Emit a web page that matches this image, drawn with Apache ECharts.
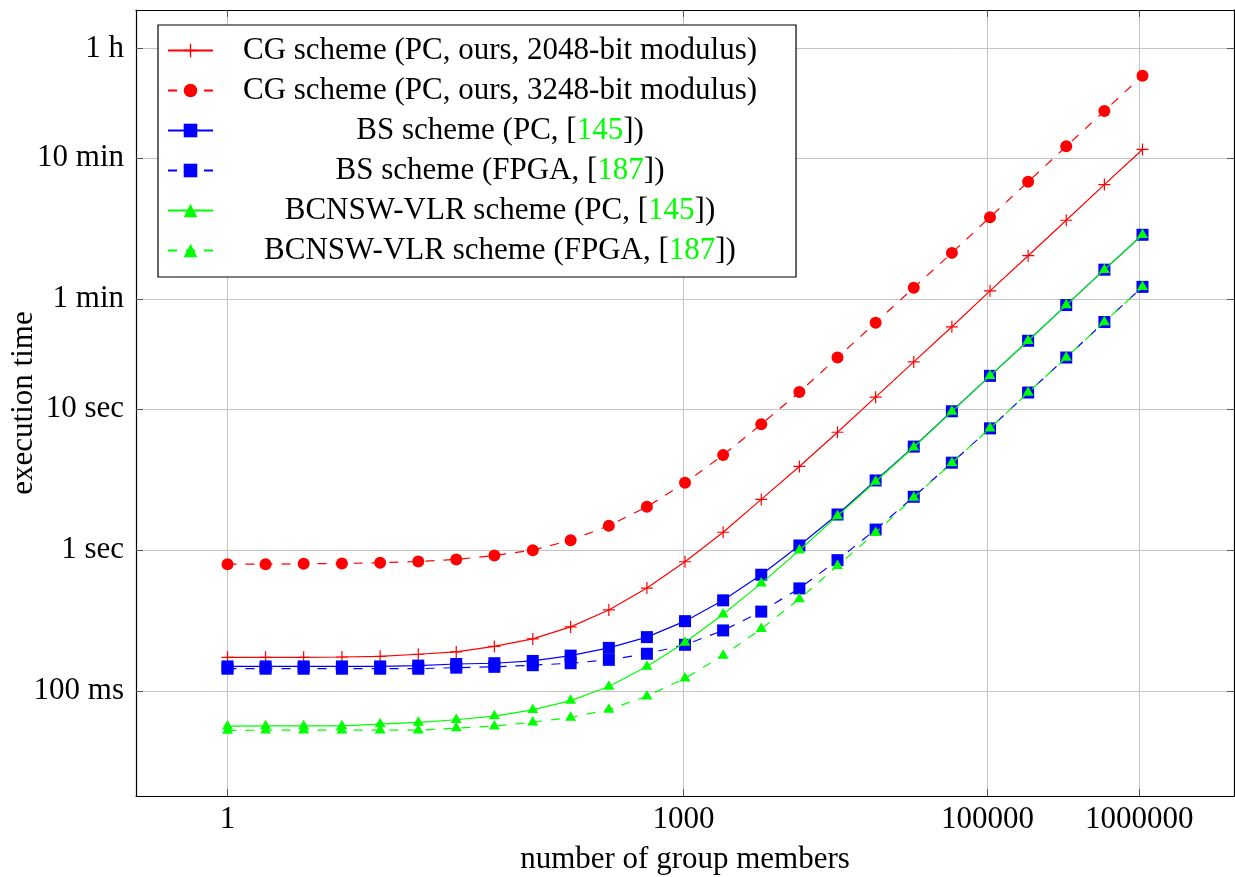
<!DOCTYPE html>
<html>
<head>
<meta charset="utf-8">
<script src="https://cdn.jsdelivr.net/npm/echarts@6/dist/echarts.min.js"></script>
<style>
html, body { margin: 0; padding: 0; background: #ffffff; }
#chart { width: 1235px; height: 877px; }
</style>
</head>
<body>
<div id="chart"></div>
<script>
// ---- data ----
const xValues = [1, 1.78, 3.17, 5.66, 10.1, 18, 32, 57, 102, 181, 323, 575, 1024,
  1825, 3251, 5793, 10321, 18390, 32768, 58386, 104032, 185364, 330281, 588496, 1048576];

const cg2048 = [0.174, 0.174, 0.174, 0.175, 0.177, 0.183, 0.190, 0.208, 0.235, 0.286, 0.377, 0.539, 0.828,
  1.34, 2.29, 3.92, 6.85, 12.15, 21.6, 38.3, 68.9, 122.2, 218, 390, 692];
const cg3248 = [0.796, 0.796, 0.800, 0.805, 0.814, 0.832, 0.859, 0.917, 1.00, 1.177, 1.49, 2.03, 3.00,
  4.72, 7.80, 13.2, 23.2, 41.0, 72.5, 128, 229, 409, 728, 1298, 2307];
const bsPC = [0.150, 0.150, 0.150, 0.150, 0.150, 0.152, 0.156, 0.158, 0.164, 0.179, 0.203, 0.242, 0.314,
  0.441, 0.670, 1.08, 1.79, 3.12, 5.42, 9.65, 17.2, 30.5, 54.6, 97.3, 172];
const bsFPGA = [0.1445, 0.1445, 0.1445, 0.1445, 0.1445, 0.1445, 0.147, 0.149, 0.153, 0.158, 0.167, 0.1845, 0.2135,
  0.270, 0.367, 0.536, 0.850, 1.40, 2.39, 4.17, 7.30, 13.1, 23.2, 41.4, 73.5];
const bcnswPC = [0.0566, 0.0568, 0.0568, 0.0568, 0.0585, 0.0601, 0.0628, 0.0667, 0.0739, 0.0859, 0.108, 0.150, 0.222,
  0.351, 0.582, 1.00, 1.75, 3.07, 5.36, 9.6, 17.2, 30.5, 54.6, 97.3, 172];
const bcnswFPGA = [0.0528, 0.053, 0.053, 0.053, 0.053, 0.053, 0.0548, 0.0566, 0.0604, 0.0652, 0.0742, 0.0923, 0.1235,
  0.1795, 0.277, 0.451, 0.775, 1.33, 2.36, 4.15, 7.3, 13.1, 23.2, 41.4, 73.5];

const seriesNames = [
  'CG scheme (PC, ours, 2048-bit modulus)',
  'CG scheme (PC, ours, 3248-bit modulus)',
  'BS scheme (PC, [145])',
  'BS scheme (FPGA, [187])',
  'BCNSW-VLR scheme (PC, [145])',
  'BCNSW-VLR scheme (FPGA, [187])'
];

const xTickValues = [1, 1000, 100000, 1000000];
const xTickLabels = ['1', '1000', '100000', '1000000'];
const yTickValues = [0.1, 1, 10, 60, 600, 3600];
const yTickLabels = ['100 ms', '1 sec', '10 sec', '1 min', '10 min', '1 h'];

const xAxisName = 'number of group members';
const yAxisName = 'execution time';

// ---- styling ----
const FONT = 'Liberation Serif';
const FS = 31;
const RED = '#ff0000', BLUE = '#0000ff', GREEN = '#00ff00';
const PLUS = 'path://M5.4,0H6.6V5.4H12V6.6H6.6V12H5.4V6.6H0V5.4H5.4Z';
const DASH = [9, 9];

function lookup(values, labels, v) {
  let best = 0, bd = Infinity;
  values.forEach((t, i) => {
    const d = Math.abs(Math.log10(t) - Math.log10(v));
    if (d < bd) { bd = d; best = i; }
  });
  return labels[best];
}

function pairs(ys) { return xValues.map((x, i) => [x, ys[i]]); }

const styles = [
  { data: cg2048, color: RED, dash: 'solid', symbol: PLUS, size: 12, offset: [0, 0] },
  { data: cg3248, color: RED, dash: DASH, symbol: 'circle', size: 12, offset: [0, 0] },
  { data: bsPC, color: BLUE, dash: 'solid', symbol: 'rect', size: 12, offset: [0, 0] },
  { data: bsFPGA, color: BLUE, dash: DASH, symbol: 'rect', size: 12, offset: [0, 0] },
  { data: bcnswPC, color: GREEN, dash: 'solid', symbol: 'triangle', size: [11, 9.5], offset: [0, -1.5] },
  { data: bcnswFPGA, color: GREEN, dash: DASH, symbol: 'triangle', size: [11, 9.5], offset: [0, -1.5] }
];

const series = styles.map((s, i) => ({
  name: seriesNames[i],
  type: 'line',
  data: pairs(s.data),
  symbol: s.symbol,
  symbolSize: s.size,
  symbolOffset: s.offset,
  showSymbol: true,
  lineStyle: { color: s.color, width: 1.2, type: s.dash },
  itemStyle: { color: s.color },
  emphasis: { disabled: true },
  z: 3 + i
}));

const X_MIN = 0.25, X_MAX = 4194304;
const Y_MIN = 0.0181, Y_MAX = 6740;

const tickStyle = { show: true, inside: true, length: 7, lineStyle: { color: '#555555', width: 1 } };
const lineBlack = { show: true, lineStyle: { color: '#000000', width: 1.2 } };

const chart = echarts.init(document.getElementById('chart'), null, { renderer: 'canvas' });
chart.setOption({
  animation: false,
  backgroundColor: '#ffffff',
  grid: { left: 136, top: 10, width: 1098, height: 786, containLabel: false, outerBoundsMode: 'none' },
  legend: {
    orient: 'vertical',
    left: 158,
    top: 25,
    padding: [10, 39, 11, 9],
    itemWidth: 45,
    itemHeight: 17,
    itemGap: 9,
    borderColor: '#000000',
    borderWidth: 1.2,
    backgroundColor: '#ffffff',
    selectedMode: false,
    data: seriesNames,
    formatter: function (name) {
      const m = name.match(/^(.*\[)(\d+)(\].*)$/);
      if (m) return '{t|' + m[1] + '}{g|' + m[2] + '}{t|' + m[3] + '}';
      return '{t|' + name + '}';
    },
    textStyle: {
      width: 564,
      fontFamily: FONT,
      fontSize: FS,
      color: '#000000',
      rich: {
        t: { fontFamily: FONT, fontSize: FS, color: '#000000', align: 'center', lineHeight: 30 },
        g: { fontFamily: FONT, fontSize: FS, color: GREEN, align: 'center', lineHeight: 30 }
      }
    },
    z: 20
  },
  xAxis: [{
    type: 'log', logBase: 10, min: X_MIN, max: X_MAX,
    position: 'bottom',
    name: xAxisName, nameLocation: 'middle', nameGap: 48, nameMoveOverlap: false,
    nameTextStyle: { fontFamily: FONT, fontSize: FS, color: '#000000' },
    axisLine: lineBlack,
    axisTick: Object.assign({ customValues: xTickValues }, tickStyle),
    axisLabel: {
      customValues: xTickValues, margin: 8,
      fontFamily: FONT, fontSize: FS, color: '#000000',
      formatter: v => lookup(xTickValues, xTickLabels, v)
    },
    splitLine: { show: true, lineStyle: { color: '#c4c4c4', width: 1 } },
    minorTick: { show: false }, minorSplitLine: { show: false }
  }, {
    type: 'log', logBase: 10, min: X_MIN, max: X_MAX,
    position: 'top',
    axisLine: lineBlack,
    axisTick: Object.assign({ customValues: xTickValues }, tickStyle),
    axisLabel: { show: false },
    splitLine: { show: false }
  }],
  yAxis: [{
    type: 'log', logBase: 10, min: Y_MIN, max: Y_MAX,
    position: 'left',
    name: yAxisName, nameLocation: 'middle', nameGap: 97, nameMoveOverlap: false,
    nameTextStyle: { fontFamily: FONT, fontSize: FS, color: '#000000' },
    axisLine: lineBlack,
    axisTick: Object.assign({ customValues: yTickValues }, tickStyle),
    axisLabel: {
      customValues: yTickValues, margin: 12,
      fontFamily: FONT, fontSize: FS, color: '#000000',
      formatter: v => lookup(yTickValues, yTickLabels, v)
    },
    splitLine: { show: true, lineStyle: { color: '#c4c4c4', width: 1 } },
    minorTick: { show: false }, minorSplitLine: { show: false }
  }, {
    type: 'log', logBase: 10, min: Y_MIN, max: Y_MAX,
    position: 'right',
    axisLine: lineBlack,
    axisTick: Object.assign({ customValues: yTickValues }, tickStyle),
    axisLabel: { show: false },
    splitLine: { show: false }
  }],
  series: series
});
</script>
</body>
</html>
